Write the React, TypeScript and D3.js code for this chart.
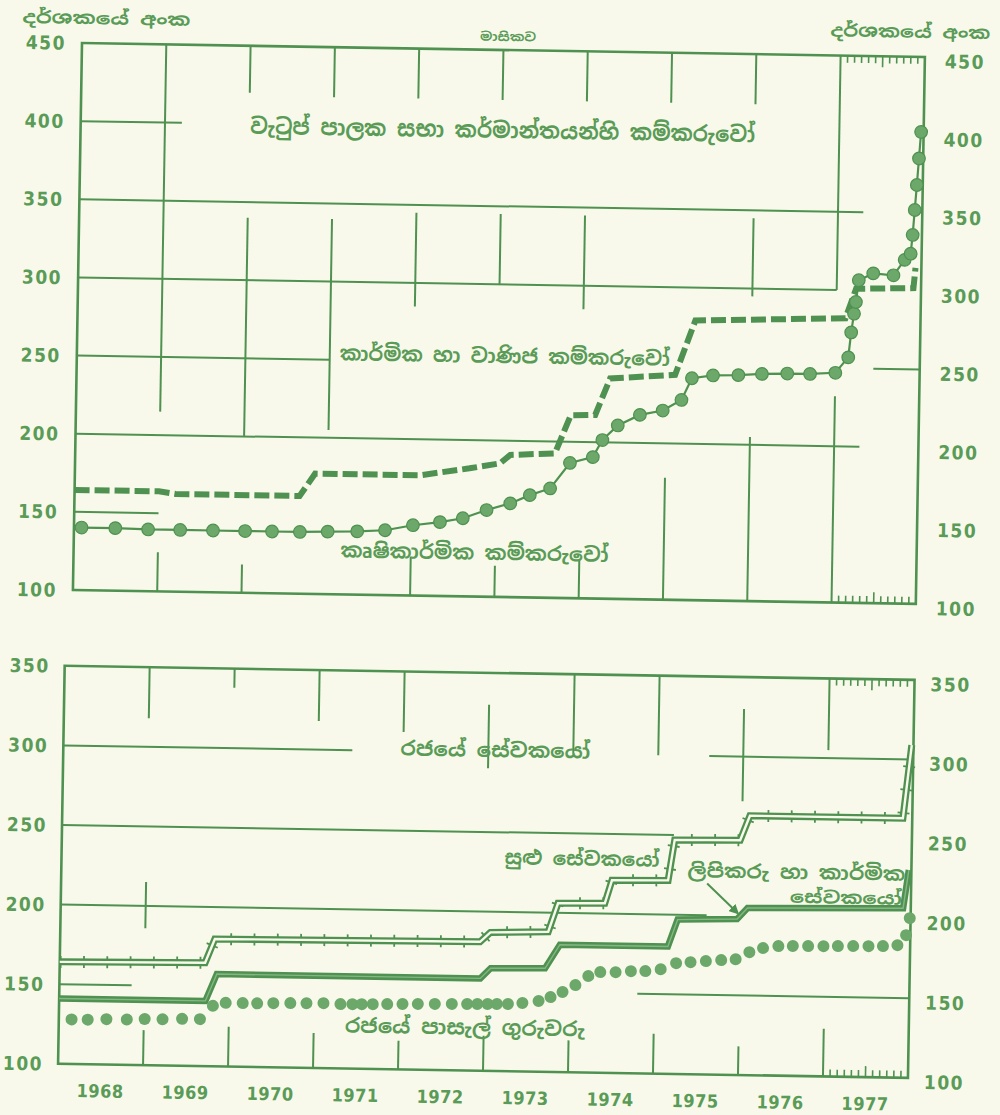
import * as d3 from "d3";

// ---- axis ticks / labels ----
const YEARS = ["1968", "1969", "1970", "1971", "1972", "1973", "1974", "1975", "1976", "1977"];
const TOP_TICKS = [100, 150, 200, 250, 300, 350, 400, 450];
const BOT_TICKS = [100, 150, 200, 250, 300, 350];

// ---- top panel: wages board trades ----
// industrial & commercial workers (dashed)
const indT = [1968.0, 1969.0, 1969.2, 1970.67, 1970.85, 1972.09, 1972.68, 1973.04, 1973.16, 1973.69, 1973.87, 1974.16, 1974.33, 1975.1, 1975.33, 1977.11, 1977.23, 1977.91, 1977.93];
const indV = [164, 164, 162.5, 162.5, 177, 177, 182, 185.5, 191, 192.5, 217, 217.5, 241, 244, 279, 282, 301, 302, 315];

// agricultural workers (dots)
const agrT = [1968.09, 1968.49, 1968.88, 1969.26, 1969.65, 1970.03, 1970.35, 1970.68, 1971.01, 1971.36, 1971.69, 1972.02, 1972.34, 1972.61, 1972.89, 1973.17, 1973.4, 1973.64, 1973.87, 1974.14, 1974.25, 1974.43, 1974.69, 1974.96, 1975.18, 1975.3, 1975.55, 1975.85, 1976.13, 1976.43, 1976.7, 1977.0, 1977.15, 1977.18, 1977.21, 1977.23, 1977.26, 1977.43, 1977.67, 1977.8, 1977.87, 1977.89, 1977.91, 1977.93, 1977.95, 1977.97];
const agrV = [140, 140, 139.5, 139.5, 139.5, 139.5, 139.5, 139.5, 140, 140.5, 141.5, 145, 147.3, 150, 155.5, 160, 165.5, 170, 186.5, 190.5, 201.5, 211, 218, 221, 228, 242, 244, 244.5, 245.5, 246, 246, 247, 257, 273, 285, 292.5, 306.5, 311, 310, 320, 324, 336, 352, 368, 385, 402];

// ---- bottom panel: government employees ----
// minor employees (double line with ticks)
const minT = [1968.0, 1969.71, 1969.82, 1972.94, 1973.06, 1973.74, 1973.85, 1974.4, 1974.48, 1975.14, 1975.21, 1975.98, 1976.09, 1977.89, 1977.98];
const minV = [164, 165, 180, 181, 187, 188, 206, 206.5, 221, 221.5, 247, 247.5, 263, 263, 309];

// clerical & technical employees (heavy line)
const clerT = [1968.0, 1969.72, 1969.85, 1972.95, 1973.07, 1973.71, 1973.88, 1975.15, 1975.26, 1975.96, 1976.08, 1977.91, 1977.97];
const clerV = [141, 141, 158, 158, 164.5, 165, 180, 180, 197, 198, 205, 206.5, 230.5];

// government school teachers (dots)
const teachT = [1968.15, 1968.34, 1968.56, 1968.8, 1969.01, 1969.22, 1969.45, 1969.66, 1969.81, 1969.96, 1970.16, 1970.33, 1970.52, 1970.72, 1970.91, 1971.11, 1971.31, 1971.45, 1971.56, 1971.69, 1971.86, 1972.04, 1972.22, 1972.42, 1972.62, 1972.8, 1972.92, 1973.04, 1973.15, 1973.28, 1973.45, 1973.64, 1973.78, 1973.92, 1974.07, 1974.22, 1974.36, 1974.54, 1974.72, 1974.89, 1975.07, 1975.25, 1975.42, 1975.6, 1975.78, 1975.95, 1976.11, 1976.27, 1976.45, 1976.62, 1976.8, 1976.98, 1977.15, 1977.33, 1977.51, 1977.68, 1977.85, 1977.95, 1977.99];
const teachV = [128, 128, 128.5, 128.5, 129, 129, 129.5, 129.5, 138, 140, 140, 140, 140.3, 140.5, 140.6, 140.8, 140.4, 140.5, 140.6, 140.7, 140.9, 141.1, 141.3, 141.5, 141.7, 141.8, 141.9, 142, 142.1, 142.2, 143, 144.4, 147, 150.3, 154.8, 160.6, 163.2, 163.3, 164.1, 164.3, 165.6, 169.6, 170.4, 171.2, 172, 172.7, 177.3, 180, 181.4, 181.6, 181.7, 181.8, 182, 182.2, 182.3, 182.5, 183.2, 189.6, 200.3];

// ---- broken grid fragments: [year, from, to] and [value, from, to] ----
const topVGrid: [number, number, number][] = [
  [1969, 450, 215], [1969, 125, 100],
  [1970, 450, 420], [1970, 340, 200], [1970, 118, 100],
  [1971, 450, 418], [1971, 340, 205],
  [1972, 450, 418], [1972, 345, 285], [1972, 125, 100],
  [1973, 450, 418], [1973, 345, 300], [1973, 120, 100],
  [1974, 450, 418], [1974, 345, 285], [1974, 125, 100],
  [1975, 450, 418], [1975, 178, 100],
  [1976, 450, 418], [1976, 345, 295], [1976, 205, 100],
  [1977, 450, 300], [1977, 232, 100],
];
const topHGrid: [number, number, number][] = [
  [400, 1968, 1969.2], [350, 1968, 1977.3], [300, 1968, 1977.0],
  [250, 1968, 1971.0], [250, 1977.45, 1978], [200, 1968, 1977.3], [150, 1968, 1969.0],
];
const botVGrid: [number, number, number][] = [
  [1969, 350, 318], [1969, 215, 186], [1969, 122, 100],
  [1970, 350, 338], [1970, 125, 100],
  [1971, 350, 318], [1971, 122, 100],
  [1972, 350, 312], [1972, 118, 100],
  [1973, 330, 290], [1973, 122, 100],
  [1974, 350, 300], [1974, 120, 100],
  [1975, 350, 300], [1975, 125, 100],
  [1976, 330, 272], [1976, 118, 100],
  [1977, 350, 305], [1977, 130, 100],
];
const botHGrid: [number, number, number][] = [
  [300, 1968, 1971.4], [300, 1975.6, 1978], [250, 1968, 1975.2],
  [200, 1968, 1975.6], [150, 1968, 1968.85], [150, 1974.8, 1978],
];

const MONTHS = d3.range(1, 12).map((m) => 1977 + m / 12);

const INK = "#4f9150";
const TEXT = "#5a9b58";
const PAPER = "#f8f9ea";
const NUM_FONT = "'DejaVu Sans Condensed', 'DejaVu Sans', sans-serif";
const SI_FONT = "'Noto Sans Sinhala', 'Noto Sans', 'DejaVu Sans', sans-serif";

type P = [number, number];
const zip = (t: number[], v: number[]): P[] => t.map((d, i) => [d, v[i]]);

export default function App() {
  const xTop = d3.scaleLinear().domain([1968, 1978]).range([82, 925]);
  const yTop = d3.scaleLinear().domain([100, 450]).range([590, 43]);
  const xBot = d3.scaleLinear().domain([1968, 1978]).range([75, 925]);
  const yBot = d3.scaleLinear().domain([100, 350]).range([1064, 666]);

  const lineTop = d3.line<P>().x((d) => xTop(d[0])).y((d) => yTop(d[1]));
  const lineBot = d3.line<P>().x((d) => xBot(d[0])).y((d) => yBot(d[1]));

  const ind = zip(indT, indV);
  const agr = zip(agrT, agrV);
  const minor = zip(minT, minV);
  const cler = zip(clerT, clerV);
  const teach = zip(teachT, teachV);

  const numStyle = { fontFamily: NUM_FONT, fontWeight: 700, fontSize: 19, letterSpacing: 1.5, fill: TEXT } as const;
  const siStyle = { fontFamily: SI_FONT, fontWeight: 700, fill: TEXT } as const;

  const panel = (
    x: d3.ScaleLinear<number, number>,
    y: d3.ScaleLinear<number, number>,
    vGrid: [number, number, number][],
    hGrid: [number, number, number][],
    ticks: number[],
    leftEnd: number,
    rightStart: number,
  ) => {
    const [x0, x1] = x.range();
    const [yb, yt] = y.range();
    return (
      <g>
        <rect x={x0} y={yt} width={x1 - x0} height={yb - yt} fill="none" stroke={INK} strokeWidth={2.6} />
        {vGrid.map(([t, a, b], i) => (
          <line key={"v" + i} x1={x(t)} x2={x(t)} y1={y(a)} y2={y(b)} stroke={INK} strokeWidth={2} />
        ))}
        {hGrid.map(([v, a, b], i) => (
          <line key={"h" + i} x1={x(a)} x2={x(b)} y1={y(v)} y2={y(v)} stroke={INK} strokeWidth={2} />
        ))}
        {MONTHS.map((m, i) => (
          <g key={"m" + i}>
            <line x1={x(m)} x2={x(m)} y1={yt} y2={yt + (i === 5 ? 11 : 7)} stroke={INK} strokeWidth={1.6} />
            <line x1={x(m)} x2={x(m)} y1={yb} y2={yb - (i === 5 ? 11 : 7)} stroke={INK} strokeWidth={1.6} />
          </g>
        ))}
        {ticks.map((v) => (
          <g key={"t" + v}>
            <text x={leftEnd} y={y(v) + 7} textAnchor="end" style={numStyle}>{v}</text>
            <text x={rightStart} y={y(v) + 11} textAnchor="start" style={numStyle}>{v}</text>
          </g>
        ))}
      </g>
    );
  };

  return (
    <svg width={1000} height={1115} style={{ position: "absolute", left: 0, top: 0, display: "block", background: PAPER }}>
      <rect width={1000} height={1115} fill={PAPER} />
      <g transform="rotate(0.95 82 43)">
        {/* axis titles */}
        <text x={22} y={24} textLength={168} lengthAdjust="spacingAndGlyphs" style={{ ...siStyle, fontSize: 17 }}>දර්ශකයේ අංක</text>
        <text x={830} y={24} textLength={160} lengthAdjust="spacingAndGlyphs" style={{ ...siStyle, fontSize: 17 }}>දර්ශකයේ අංක</text>
        <text x={480} y={34} textLength={56} lengthAdjust="spacingAndGlyphs" style={{ ...siStyle, fontSize: 12 }}>මාසිකව</text>

        {/* ---- top panel ---- */}
        {panel(xTop, yTop, topVGrid, topHGrid, TOP_TICKS, 66, 945)}
        <text x={504} y={131} textAnchor="middle" textLength={505} lengthAdjust="spacingAndGlyphs" style={{ ...siStyle, fontSize: 22 }}>
          වැටුප් පාලක සභා කර්මාන්තයන්හි කම්කරුවෝ
        </text>
        <text x={345} y={356} textLength={330} lengthAdjust="spacingAndGlyphs" style={{ ...siStyle, fontSize: 20 }}>
          කාර්මික හා වාණිජ කම්කරුවෝ
        </text>
        <text x={349} y={553} textLength={268} lengthAdjust="spacingAndGlyphs" style={{ ...siStyle, fontSize: 20 }}>
          කෘෂිකාර්මික කම්කරුවෝ
        </text>

        <path d={lineTop(ind) ?? ""} fill="none" stroke={INK} strokeWidth={6} strokeDasharray="15 5" />
        <path d={lineTop(agr) ?? ""} fill="none" stroke={INK} strokeWidth={2.2} />
        {agr.map((d, i) => (
          <circle key={"a" + i} cx={xTop(d[0])} cy={yTop(d[1])} r={6.3} fill="#6ba86a" stroke={INK} strokeWidth={1.2} />
        ))}

        {/* ---- bottom panel ---- */}
        {panel(xBot, yBot, botVGrid, botHGrid, BOT_TICKS, 60, 941)}
        <text x={412} y={750} textLength={190} lengthAdjust="spacingAndGlyphs" style={{ ...siStyle, fontSize: 20 }}>
          රජයේ සේවකයෝ
        </text>
        <text x={518} y={857} textLength={155} lengthAdjust="spacingAndGlyphs" style={{ ...siStyle, fontSize: 19 }}>
          සුළු සේවකයෝ
        </text>
        <text x={701} y={867} textLength={218} lengthAdjust="spacingAndGlyphs" style={{ ...siStyle, fontSize: 19 }}>
          ලිපිකරු හා කාර්මික
        </text>
        <text x={804} y={891} textLength={112} lengthAdjust="spacingAndGlyphs" style={{ ...siStyle, fontSize: 17 }}>
          සේවකයෝ
        </text>
        <text x={361} y={1028} textLength={240} lengthAdjust="spacingAndGlyphs" style={{ ...siStyle, fontSize: 20 }}>
          රජයේ පාසැල් ගුරුවරු
        </text>
        <defs>
          <marker id="arr" viewBox="0 0 10 10" refX="8" refY="5" markerWidth="5" markerHeight="5" orient="auto">
            <path d="M0,0 L10,5 L0,10 z" fill={INK} />
          </marker>
        </defs>
        <line x1={721} y1={873} x2={752} y2={902} stroke={INK} strokeWidth={2} markerEnd="url(#arr)" />

        {/* minor employees: double line with cross ticks */}
        <path d={lineBot(minor) ?? ""} fill="none" stroke={INK} strokeWidth={12} strokeDasharray="1.8 21.5" />
        <path d={lineBot(minor) ?? ""} fill="none" stroke={INK} strokeWidth={7} />
        <path d={lineBot(minor) ?? ""} fill="none" stroke={PAPER} strokeWidth={2.4} />
        {/* clerical & technical */}
        <path d={lineBot(cler) ?? ""} fill="none" stroke={INK} strokeWidth={6.5} />
        <path d={lineBot(cler) ?? ""} fill="none" stroke="#9cc79a" strokeWidth={1.4} strokeOpacity={0.7} />
        {/* teachers */}
        {teach.map((d, i) => (
          <circle key={"s" + i} cx={xBot(d[0])} cy={yBot(d[1])} r={6} fill="#6ba86a" />
        ))}

        {/* years */}
        {YEARS.map((yr, i) => (
          <text key={yr} x={xBot(1968 + i + 0.5)} y={1097} textAnchor="middle" style={{ ...numStyle, fontSize: 18, letterSpacing: 0.5 }}>
            {yr}
          </text>
        ))}
      </g>
    </svg>
  );
}
